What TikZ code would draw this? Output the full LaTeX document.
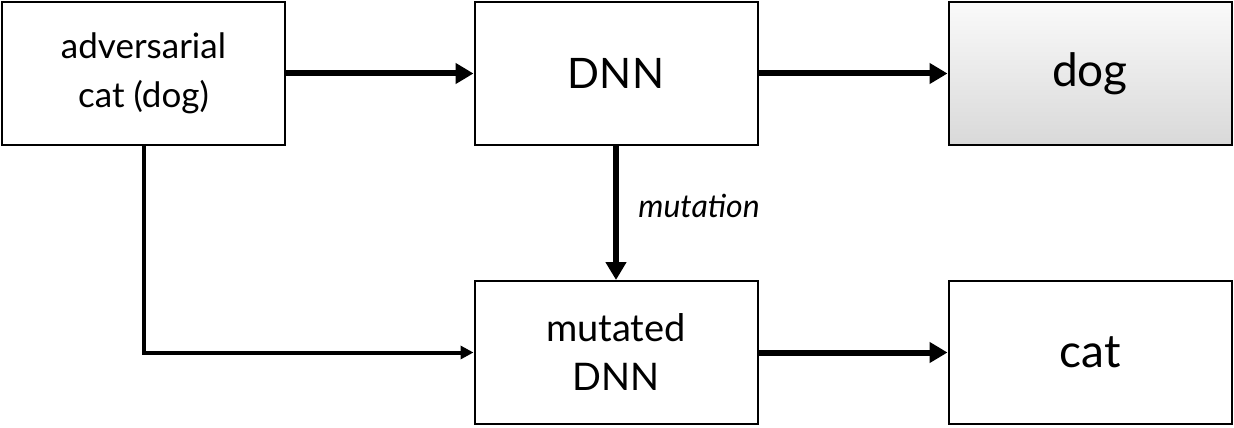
\documentclass[tikz,border=0pt]{standalone}
\usepackage{fontspec}
\setmainfont{Lato}
\usetikzlibrary{arrows.meta}
\begin{document}
\begin{tikzpicture}[x=1pt,y=-1pt,
  box/.style={draw=black, line width=2pt, minimum width=283pt, minimum height=143pt,
    align=center, inner sep=0pt, fill=white},
  bigarrow/.style={line width=6pt, -{Triangle[length=18pt,width=20pt]}},
  smallarrow/.style={line width=4pt, -{Triangle[length=13pt,width=13pt]}}]
\useasboundingbox (0,0) rectangle (1234,428);
\node[box, font=\fontsize{35}{47}\selectfont] (adv) at (143.5,73.5) {adversarial\\[2pt]cat (dog)};
\node[box, font=\fontsize{42}{46}\selectfont] (dnn) at (616,73.5) {DNN};
\node[box, top color=gray!4, bottom color=gray!30, font=\fontsize{46}{52}\selectfont] (dog) at (1090,73.5) {dog};
\node[box, font=\fontsize{38}{49}\selectfont] (mut) at (616,352.5) {mutated\\DNN};
\node[box, font=\fontsize{46}{50}\selectfont] (cat) at (1090,352.5) {cat};
\draw[bigarrow] (adv.east) -- (dnn.west);
\draw[bigarrow] (dnn.east) -- (dog.west);
\draw[bigarrow] (mut.east) -- (cat.west);
\draw[bigarrow] (dnn.south) -- node[right=16pt, pos=0.45, font=\fontsize{32}{36}\selectfont\itshape] {mutation} (mut.north);
\draw[smallarrow] (adv.south) |- (mut.west);
\end{tikzpicture}
\end{document}
